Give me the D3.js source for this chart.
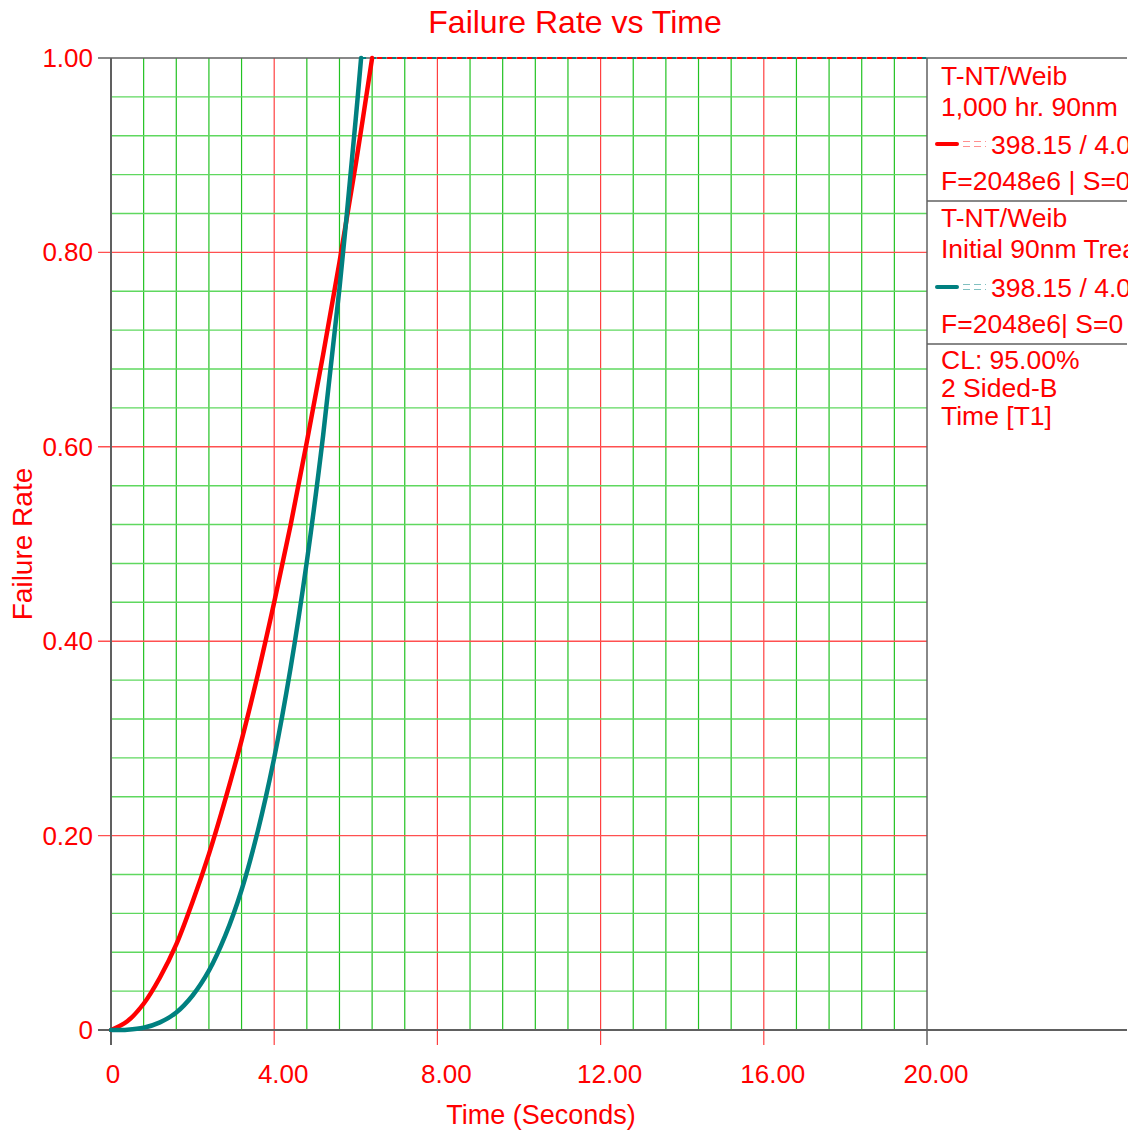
<!DOCTYPE html>
<html lang="en">
<head>
    <meta charset="UTF-8">
    <title>Failure Rate vs Time</title>
    <style>
        body {
            margin: 0;
            background: #fff;
            font-family: 'Liberation Sans', Arial, sans-serif;
        }
        text {
            fill: #ff0000;
        }
    </style>
    <script src="https://d3js.org/d3.v7.min.js"></script>
</head>
<body>
    <div id="chart"></div>
    <script>
        // values
        const redTime = [0, 0.4, 0.8, 1.2, 1.6, 2.0, 2.4, 2.8, 3.2, 3.6, 4.0, 4.4, 4.8, 5.2, 5.6, 6.0, 6.4];
        const redRate = [0, 0.009, 0.027, 0.054, 0.088, 0.132, 0.181, 0.237, 0.298, 0.366, 0.44, 0.519, 0.605, 0.695, 0.79, 0.891, 1.0];
        const tealTime = [0, 0.4, 0.8, 1.2, 1.6, 2.0, 2.4, 2.8, 3.2, 3.6, 4.0, 4.4, 4.8, 5.2, 5.6, 6.0, 6.13];
        const tealRate = [0, 0.0003, 0.0023, 0.0078, 0.018, 0.0355, 0.061, 0.097, 0.144, 0.205, 0.28, 0.372, 0.482, 0.612, 0.763, 0.938, 1.0];

        const xTicks = [0, 4, 8, 12, 16, 20];
        const xTickLabels = ["0", "4.00", "8.00", "12.00", "16.00", "20.00"];
        const yTicks = [0, 0.2, 0.4, 0.6, 0.8, 1.0];
        const yTickLabels = ["0", "0.20", "0.40", "0.60", "0.80", "1.00"];

        const legendLines = [
            "T-NT/Weib", "1,000 hr. 90nm", "398.15 / 4.0", "F=2048e6 | S=0",
            "T-NT/Weib", "Initial 90nm Treated", "398.15 / 4.0", "F=2048e6| S=0",
            "CL: 95.00%", "2 Sided-B", "Time [T1]"
        ];

        const width = 1141, height = 1133;
        const pLeft = 111, pRight = 927, pTop = 58, pBottom = 1030;
        const RED = "#ff0000", TEAL = "#008080";

        const svg = d3.select("#chart").append("svg")
            .attr("width", width)
            .attr("height", height);

        const x = d3.scaleLinear().domain([0, 20]).range([pLeft, pRight]);
        const y = d3.scaleLinear().domain([0, 1]).range([pBottom, pTop]);

        // grid
        const grid = svg.append("g");
        const vMinor = d3.range(1, 25).map(i => i * 0.8);
        vMinor.forEach((v, i) => {
            const major = (i + 1) % 5 === 0;
            grid.append("line")
                .attr("x1", x(v)).attr("x2", x(v))
                .attr("y1", pTop).attr("y2", major ? pBottom + 15 : pBottom)
                .attr("stroke", major ? "#ff4040" : "#22c222")
                .attr("stroke-width", 1.2);
        });
        const hMinor = d3.range(1, 25).map(i => i * 0.04);
        hMinor.forEach((v, i) => {
            const major = (i + 1) % 5 === 0;
            grid.append("line")
                .attr("x1", major ? pLeft - 13 : pLeft).attr("x2", pRight)
                .attr("y1", y(v)).attr("y2", y(v))
                .attr("stroke", major ? "#ff5050" : "#5fd85f")
                .attr("stroke-width", 1.4);
        });

        // frame
        const frame = svg.append("g").attr("stroke", "#606060");
        frame.append("line").attr("x1", pLeft - 13).attr("x2", 1127).attr("y1", pTop).attr("y2", pTop).attr("stroke-width", 1.5);
        frame.append("line").attr("x1", pLeft - 13).attr("x2", 1127).attr("y1", pBottom).attr("y2", pBottom).attr("stroke-width", 2);
        frame.append("line").attr("x1", pLeft).attr("x2", pLeft).attr("y1", pTop).attr("y2", pBottom + 15).attr("stroke-width", 2);
        frame.append("line").attr("x1", pRight).attr("x2", pRight).attr("y1", pTop).attr("y2", pBottom + 15).attr("stroke-width", 1.5);
        frame.append("line").attr("x1", pRight).attr("x2", 1127).attr("y1", 201).attr("y2", 201).attr("stroke-width", 1.5);
        frame.append("line").attr("x1", pRight).attr("x2", 1127).attr("y1", 344).attr("y2", 344).attr("stroke-width", 1.5);

        // tick labels
        svg.selectAll(".xlab")
            .data(xTicks)
            .join("text")
            .attr("class", "xlab")
            .attr("x", d => x(d) + (d === 0 ? 2 : 9))
            .attr("y", pBottom + 53)
            .attr("text-anchor", "middle")
            .attr("font-size", 26)
            .text((d, i) => xTickLabels[i]);

        svg.selectAll(".ylab")
            .data(yTicks)
            .join("text")
            .attr("class", "ylab")
            .attr("x", 93)
            .attr("y", d => y(d) + 9)
            .attr("text-anchor", "end")
            .attr("font-size", 26)
            .text((d, i) => yTickLabels[i]);

        svg.append("text")
            .attr("x", 575).attr("y", 33)
            .attr("text-anchor", "middle")
            .attr("font-size", 32)
            .text("Failure Rate vs Time");

        svg.append("text")
            .attr("x", 541).attr("y", 1124)
            .attr("text-anchor", "middle")
            .attr("font-size", 27)
            .text("Time (Seconds)");

        svg.append("text")
            .attr("transform", "translate(32,544) rotate(-90)")
            .attr("text-anchor", "middle")
            .attr("font-size", 28)
            .text("Failure Rate");

        // curves
        const line = d3.line()
            .x(d => x(d[0]))
            .y(d => y(d[1]))
            .curve(d3.curveCatmullRom.alpha(0.5));

        const redData = redTime.map((t, i) => [t, redRate[i]]);
        const tealData = tealTime.map((t, i) => [t, tealRate[i]]);

        // after reaching 1.0 both series run along the top as dashes
        svg.append("line")
            .attr("x1", x(tealTime[tealTime.length - 1])).attr("x2", pRight)
            .attr("y1", y(1)).attr("y2", y(1))
            .attr("stroke", TEAL).attr("stroke-width", 2)
            .attr("stroke-dasharray", "5,5");
        svg.append("line")
            .attr("x1", x(redTime[redTime.length - 1])).attr("x2", pRight)
            .attr("y1", y(1)).attr("y2", y(1))
            .attr("stroke", RED).attr("stroke-width", 2)
            .attr("stroke-dasharray", "5,5")
            .attr("stroke-dashoffset", 5);

        svg.append("path")
            .datum(redData)
            .attr("d", line)
            .attr("fill", "none")
            .attr("stroke", RED)
            .attr("stroke-width", 4.5)
            .attr("stroke-linecap", "round");

        svg.append("path")
            .datum(tealData)
            .attr("d", line)
            .attr("fill", "none")
            .attr("stroke", TEAL)
            .attr("stroke-width", 4.5)
            .attr("stroke-linecap", "round");

        // legend (clipped at the right edge like the original)
        svg.append("clipPath").attr("id", "legclip")
            .append("rect").attr("x", pRight).attr("y", pTop).attr("width", 1128 - pRight).attr("height", 400);

        const leg = svg.append("g").attr("clip-path", "url(#legclip)");
        const legY = [85, 116, 154, 190, 227, 258, 297, 333, 369, 397, 425];
        legendLines.forEach((t, i) => {
            const isSample = i === 2 || i === 6;
            leg.append("text")
                .attr("x", isSample ? 991 : 941)
                .attr("y", legY[i])
                .attr("font-size", 26.5)
                .text(t);
        });
        [[144, RED, "#ff9090"], [287, TEAL, "#80c0c0"]].forEach(([ly, c, pale]) => {
            leg.append("line")
                .attr("x1", 937).attr("x2", 957).attr("y1", ly).attr("y2", ly)
                .attr("stroke", c).attr("stroke-width", 4).attr("stroke-linecap", "round");
            [-2.5, 2.5].forEach(off => {
                leg.append("line")
                    .attr("x1", 963).attr("x2", 986).attr("y1", ly + off).attr("y2", ly + off)
                    .attr("stroke", pale).attr("stroke-width", 1)
                    .attr("stroke-dasharray", "7,4");
            });
        });
    </script>
</body>
</html>
